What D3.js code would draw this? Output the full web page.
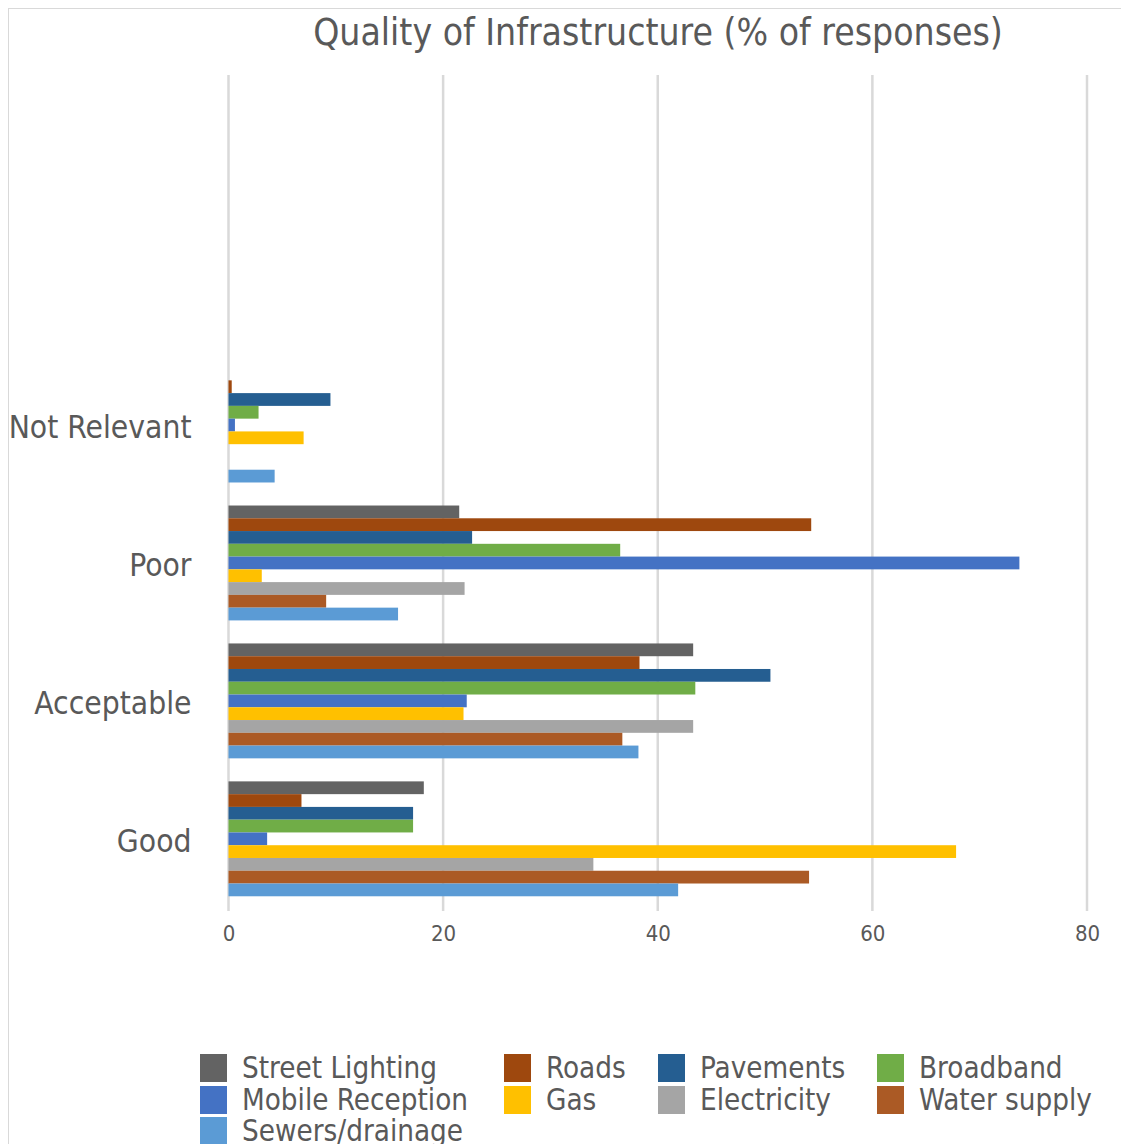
<!DOCTYPE html>
<html>
<head>
<meta charset="utf-8">
<script src="https://cdn.jsdelivr.net/npm/d3@7"></script>
<style>
  body { margin: 0; background: #fff; }
  text { font-family: "DejaVu Sans Condensed", "DejaVu Sans", sans-serif; fill: #595959; }
</style>
</head>
<body>
<div id="chart"></div>
<script>
// categories, bottom to top (two empty slots at the top like the original)
var categories = ['Good', 'Acceptable', 'Poor', 'Not Relevant', ' ', '  '];
var series = ['Street Lighting', 'Roads', 'Pavements', 'Broadband', 'Mobile Reception', 'Gas', 'Electricity', 'Water supply', 'Sewers/drainage'];
var colors = ['#636363', '#9e480e', '#255e91', '#70ad47', '#4472c4', '#ffc000', '#a5a5a5', '#ab5a25', '#5b9bd5'];

// values per series, in category order Good, Acceptable, Poor, Not Relevant
var streetLighting = [18.2, 43.3, 21.5, 0];
var roads          = [6.8, 38.3, 54.3, 0.3];
var pavements      = [17.2, 50.5, 22.7, 9.5];
var broadband      = [17.2, 43.5, 36.5, 2.8];
var mobile         = [3.6, 22.2, 73.7, 0.6];
var gas            = [67.8, 21.9, 3.1, 7.0];
var electricity    = [34.0, 43.3, 22.0, 0];
var waterSupply    = [54.1, 36.7, 9.1, 0];
var sewers         = [41.9, 38.2, 15.8, 4.3];
var xTicks = [0, 20, 40, 60, 80];

var values = [streetLighting, roads, pavements, broadband, mobile, gas, electricity, waterSupply, sewers];

var W = 1121, H = 1144;
var svg = d3.select('#chart').append('svg').attr('width', W).attr('height', H);

// chart area border
svg.append('rect')
  .attr('x', 8.5).attr('y', 8.5).attr('width', W).attr('height', H)
  .attr('fill', 'none').attr('stroke', '#d9d9d9');

var plot = { left: 228.5, right: 1087, top: 75, bottom: 911 };

var x = d3.scaleLinear().domain([0, 80]).range([plot.left, plot.right]);
var y = d3.scaleBand().domain(categories.slice().reverse())
  .range([80, 908]).paddingInner(0.167).paddingOuter(0.085);
var yInner = d3.scaleBand().domain(series).range([0, y.bandwidth()]);

// gridlines
svg.append('g').selectAll('line').data(xTicks).enter().append('line')
  .attr('x1', function (d) { return x(d); })
  .attr('x2', function (d) { return x(d); })
  .attr('y1', plot.top).attr('y2', plot.bottom)
  .attr('stroke', '#d9d9d9').attr('stroke-width', 2.5);

// bars
series.forEach(function (s, i) {
  svg.append('g').selectAll('rect').data(values[i]).enter().append('rect')
    .attr('x', x(0))
    .attr('y', function (d, j) { return y(categories[j]) + yInner(s); })
    .attr('width', function (d) { return x(d) - x(0); })
    .attr('height', yInner.bandwidth())
    .attr('fill', colors[i]);
});

// x axis labels
var xAxis = svg.append('g')
  .attr('transform', 'translate(0,' + plot.bottom + ')')
  .call(d3.axisBottom(x).tickValues(xTicks).tickSize(0).tickPadding(14));
xAxis.select('.domain').remove();
xAxis.selectAll('text').style('font-size', '22px').attr('fill', '#595959');

// category labels
var yAxis = svg.append('g')
  .attr('transform', 'translate(' + (plot.left - 37) + ',3)')
  .call(d3.axisLeft(y).tickSize(0).tickPadding(0));
yAxis.select('.domain').remove();
yAxis.selectAll('text').style('font-size', '31.5px').attr('fill', '#595959');

// title
svg.append('text')
  .attr('x', 658).attr('y', 45)
  .attr('text-anchor', 'middle')
  .style('font-size', '37px')
  .text('Quality of Infrastructure (% of responses)');

// legend
var legendCols = [200, 504, 658, 877];
var legendRows = [1068, 1100, 1131];
var legend = svg.append('g').selectAll('g').data(series).enter().append('g')
  .attr('transform', function (d, i) {
    return 'translate(' + legendCols[i % 4] + ',' + legendRows[Math.floor(i / 4)] + ')';
  });
legend.append('rect')
  .attr('x', 0).attr('y', -14).attr('width', 27).attr('height', 28)
  .attr('fill', function (d, i) { return colors[i]; });
legend.append('text')
  .attr('x', 42).attr('y', 10)
  .style('font-size', '29.3px')
  .text(function (d) { return d; });
</script>
</body>
</html>
